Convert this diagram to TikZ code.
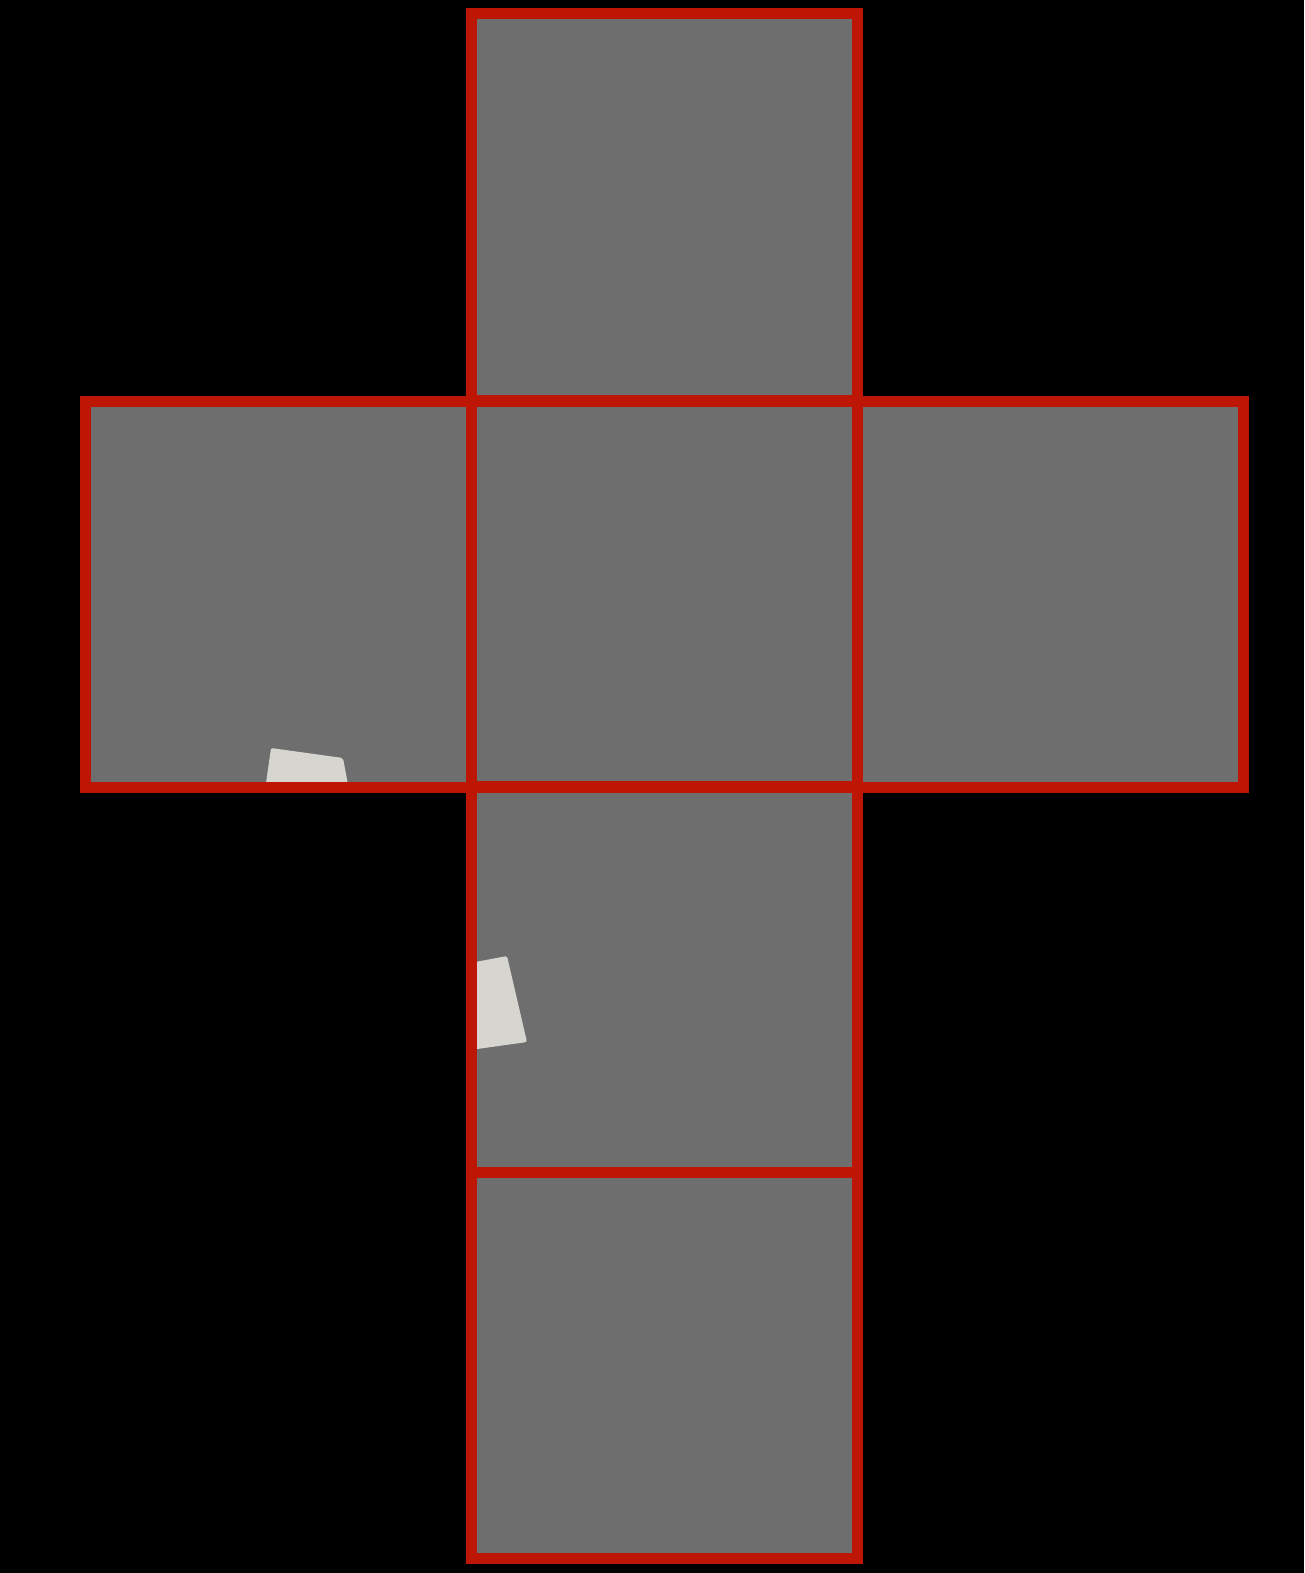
\documentclass[tikz,border=0pt]{standalone}
\definecolor{facegray}{RGB}{110,110,110}
\definecolor{edgered}{RGB}{190,22,4}
\definecolor{patch}{RGB}{214,213,208}
\tikzset{
  face/.style={fill=facegray},
  edge/.style={draw=edgered,line width=11pt,line join=miter},
  patchshape/.style={fill=patch,draw=none,rounded corners=2pt}
}
\begin{document}
\begin{tikzpicture}[x=1pt,y=-1pt]
\fill[black] (0,0) rectangle (1304,1573);
\useasboundingbox (0,0) rectangle (1304,1573);
% faces
\foreach \xa/\ya in {471/14, 85/401, 471/401, 857/401, 471/786, 471/1172}{
  \fill[face] (\xa,\ya) rectangle ++(386,386);
}
% light patches
\fill[patchshape] (265,790) -- (271,748) -- (343,758) -- (349,790) -- cycle;
\fill[patchshape] (470,963) -- (507,956) -- (527,1042) -- (470,1050) -- cycle;
% edges
\foreach \xa/\ya in {471/14, 85/401, 471/401, 857/401, 471/786, 471/1172}{
  \draw[edge] (\xa,\ya) rectangle ++(386,386);
}
\end{tikzpicture}
\end{document}
